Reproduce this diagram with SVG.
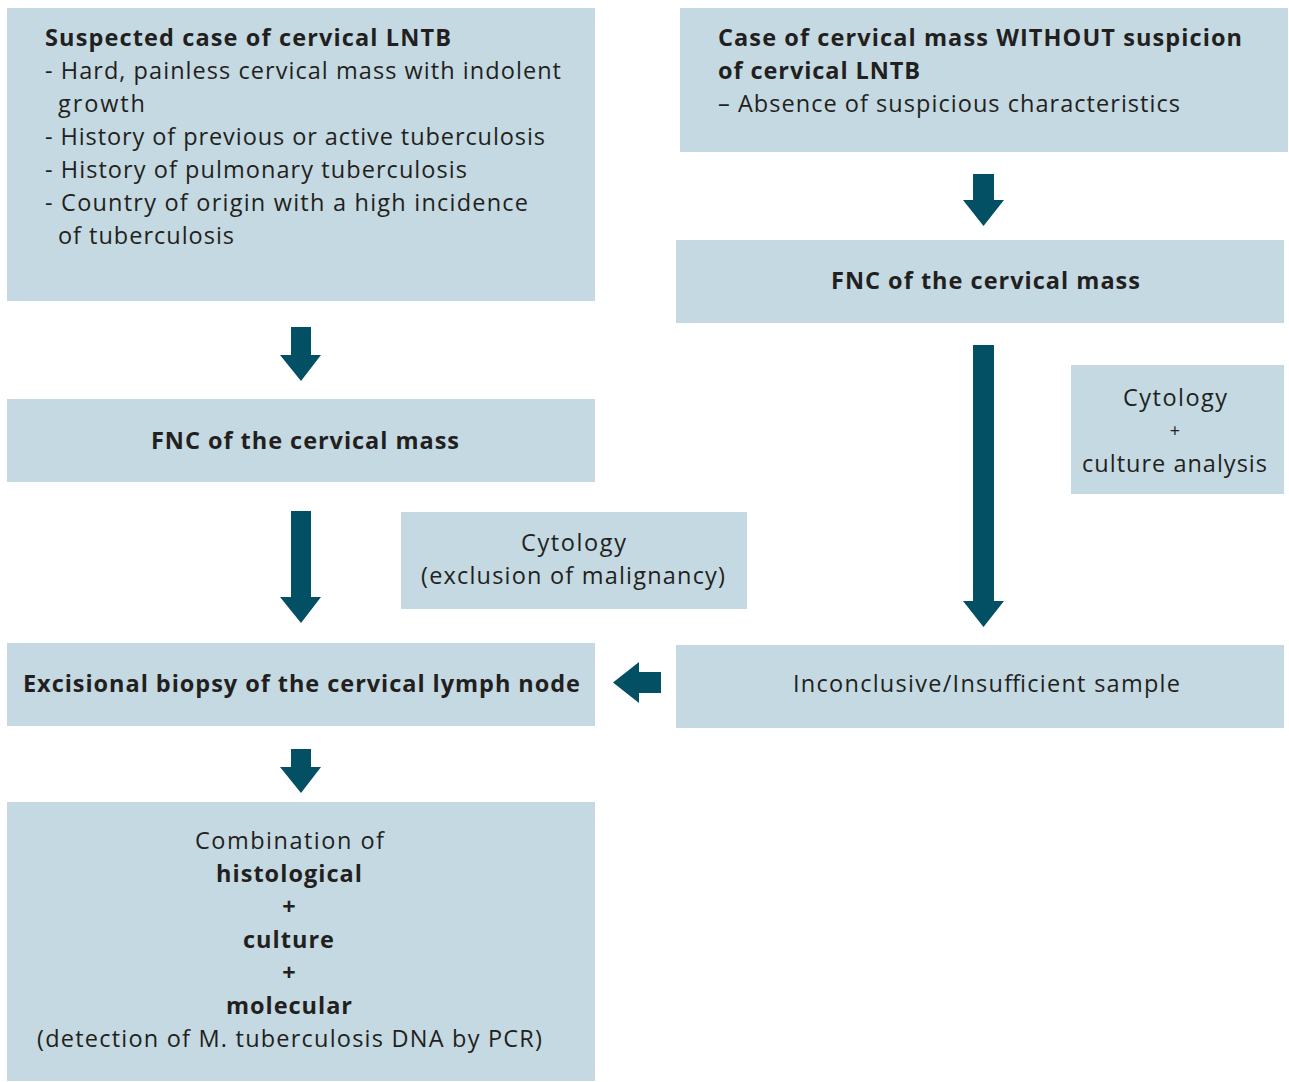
<svg xmlns="http://www.w3.org/2000/svg" width="1289" height="1082" viewBox="0 0 1289 1082">
<style>
.box{fill:#c4d9e2}
.arr{fill:#034f63}
text{font-family:"Open Sans","Noto Sans",sans-serif;font-size:23.5px;fill:#231f20}
.b{font-weight:bold}
.c{text-anchor:middle}
</style>
<rect width="1289" height="1082" fill="#ffffff"/>
<g id="connectors">
<polygon class="arr" points="291,327 311,327 311,355 321,355 301,381 280,355 291,355"/>
<polygon class="arr" points="973,174 994,174 994,200 1004,200 983.5,226 963,200 973,200"/>
<polygon class="arr" points="973,345 994,345 994,601 1004,601 983.5,627 963,601 973,601"/>
<polygon class="arr" points="291,511 311,511 311,597 321,597 301,623 280,597 291,597"/>
<polygon class="arr" points="661,672 661,693 639,693 639,703 613,682.5 639,662 639,672"/>
<polygon class="arr" points="291,749 311,749 311,767 321,767 301,793 280,767 291,767"/>
</g>
<g id="suspected">
<rect class="box" x="7" y="8" width="588" height="293"/>
<text x="45" y="46" class="b" textLength="406">Suspected case of cervical LNTB</text>
<text x="45" y="79" textLength="516">- Hard, painless cervical mass with indolent</text>
<text x="58" y="112" textLength="87">growth</text>
<text x="45" y="145" textLength="500">- History of previous or active tuberculosis</text>
<text x="45" y="178" textLength="422">- History of pulmonary tuberculosis</text>
<text x="45" y="211" textLength="483">- Country of origin with a high incidence</text>
<text x="58" y="244" textLength="176">of tuberculosis</text>
</g>
<g id="without">
<rect class="box" x="680" y="8" width="608" height="144"/>
<text x="718" y="46" class="b" textLength="524">Case of cervical mass WITHOUT suspicion</text>
<text x="718" y="79" class="b" textLength="202">of cervical LNTB</text>
<text x="718" y="112" textLength="462">– Absence of suspicious characteristics</text>
</g>
<g id="fnc-right">
<rect class="box" x="676" y="240" width="608" height="83"/>
<text x="831" y="289" class="b" textLength="309">FNC of the cervical mass</text>
</g>
<g id="cyto-right">
<rect class="box" x="1071" y="365" width="213" height="129"/>
<text x="1123" y="406" textLength="104">Cytology</text>
<text x="1175" y="437" class="c" style="font-size:18px">+</text>
<text x="1082" y="472" textLength="185">culture analysis</text>
</g>
<g id="fnc-left">
<rect class="box" x="7" y="399" width="588" height="83"/>
<text x="151" y="449" class="b" textLength="308">FNC of the cervical mass</text>
</g>
<g id="cyto-mid">
<rect class="box" x="401" y="512" width="346" height="97"/>
<text x="521" y="551" textLength="105">Cytology</text>
<text x="421" y="584" textLength="304">(exclusion of malignancy)</text>
</g>
<g id="excisional">
<rect class="box" x="7" y="643" width="588" height="83"/>
<text x="23" y="692" class="b" textLength="557">Excisional biopsy of the cervical lymph node</text>
</g>
<g id="inconclusive">
<rect class="box" x="676" y="645" width="608" height="83"/>
<text x="793" y="692" textLength="387">Inconclusive/Insufficient sample</text>
</g>
<g id="combination">
<rect class="box" x="7" y="802" width="588" height="279"/>
<text x="195" y="849" textLength="189">Combination of</text>
<text x="216" y="882" class="b" textLength="146">histological</text>
<text x="289" y="915" class="b c">+</text>
<text x="243" y="948" class="b" textLength="91">culture</text>
<text x="289" y="981" class="b c">+</text>
<text x="226" y="1014" class="b" textLength="126">molecular</text>
<text x="37" y="1047" textLength="505">(detection of M. tuberculosis DNA by PCR)</text>
</g>
</svg>
